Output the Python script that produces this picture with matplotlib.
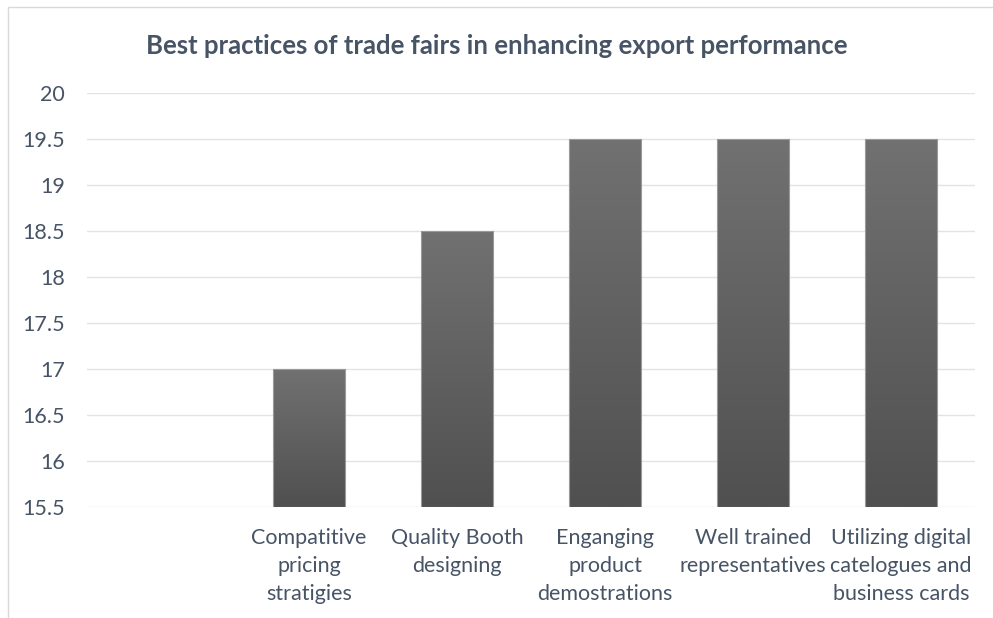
import numpy as np
import matplotlib
matplotlib.use("Agg")
import matplotlib.pyplot as plt
from matplotlib.patches import Rectangle

categories = ["", "Compatitive\npricing\nstratigies", "Quality Booth\ndesigning",
              "Enganging\nproduct\ndemostrations", "Well trained\nrepresentatives",
              "Utilizing digital\ncatelogues and\nbusiness cards"]
values = [np.nan, 17.0, 18.5, 19.5, 19.5, 19.5]
yticks = [15.5, 16, 16.5, 17, 17.5, 18, 18.5, 19, 19.5, 20]

plt.rcParams["font.family"] = ["Lato", "DejaVu Sans"]
TXT = "#475466"

fig = plt.figure(figsize=(9.93, 6.18), dpi=100)
# outer chart border
fig.patches.append(Rectangle((8 / 993, -0.01), 1.0, 1 - 7 / 618 + 0.01, transform=fig.transFigure,
                             fill=False, ec="#d9d9d9", lw=1.0))
ax = fig.add_axes([87 / 993, (618 - 507) / 618, (975 - 87) / 993, (507 - 93) / 618])
ax.set_xlim(-0.5, len(categories) - 0.5)
ax.set_ylim(15.5, 20)

# vertical gradient, lighter on top
grad = np.linspace(0, 1, 256).reshape(-1, 1)
cmap = matplotlib.colors.LinearSegmentedColormap.from_list("g", ["#505050", "#717171"])
w = 0.49
for i, v in enumerate(values):
    if np.isnan(v):
        continue
    im = ax.imshow(grad, extent=(i - w / 2, i + w / 2, 15.5, v), origin="lower",
                   cmap=cmap, aspect="auto", zorder=3)
    r = Rectangle((i - w / 2, 15.5), w, v - 15.5, fill=False, ec="#9a9a9a", lw=0.8, zorder=4)
    ax.add_patch(r)
    im.set_clip_path(r)
ax.set_aspect("auto")

ax.set_yticks(yticks)
ax.set_yticklabels([f"{t:g}" for t in yticks])
ax.set_xticks(range(len(categories)))
ax.set_xticklabels(categories, linespacing=1.5)
ax.grid(axis="y", color="#dfe3ea", lw=1.0, zorder=0)
for s in ax.spines.values():
    s.set_visible(False)
ax.tick_params(axis="both", length=0, labelsize=15.5, labelcolor=TXT)
ax.tick_params(axis="y", pad=16)
ax.tick_params(axis="x", pad=15)

fig.text(0.5, 1 - 46 / 618, "Best practices of trade fairs in enhancing export performance",
         ha="center", va="center", fontsize=18.5, fontweight="bold", color=TXT)

fig.savefig("out.png", dpi=100)
